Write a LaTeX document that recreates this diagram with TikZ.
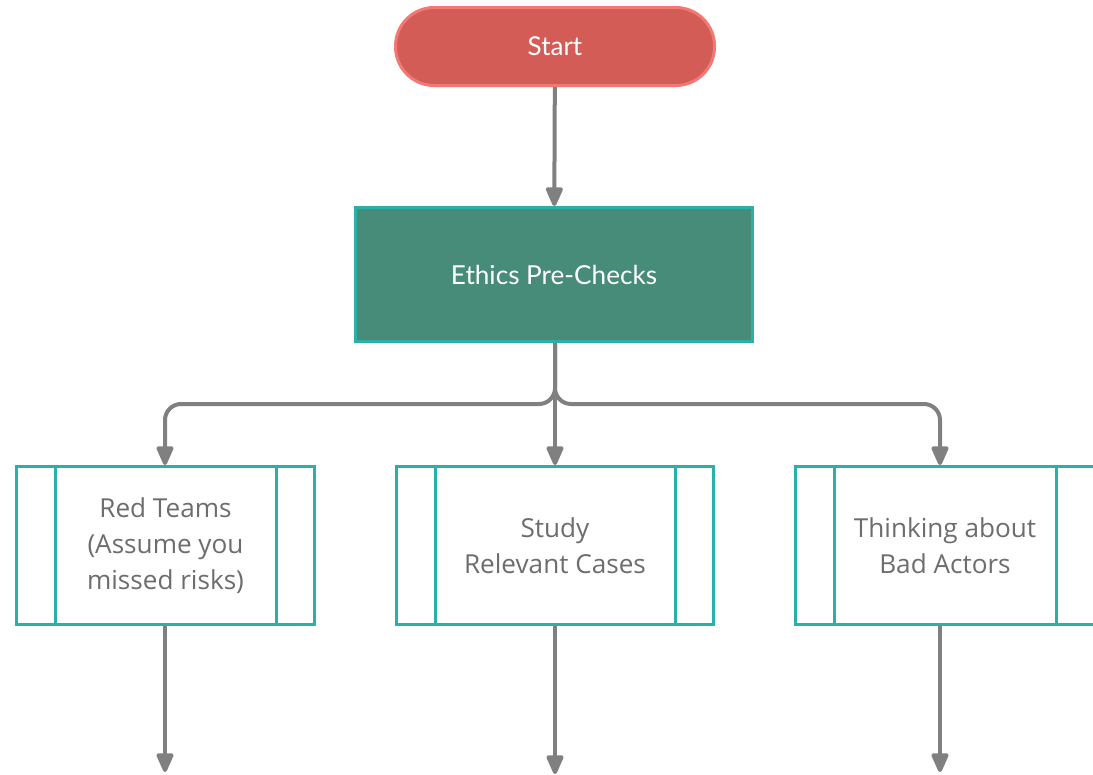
\documentclass[tikz,border=0pt]{standalone}
\usepackage{fontspec}
\setmainfont{Open Sans}
\newfontfamily\latofont{Lato}
\usetikzlibrary{arrows.meta,calc}

\definecolor{startfill}{HTML}{D35C56}
\definecolor{startline}{HTML}{F27873}
\definecolor{checkfill}{HTML}{468C79}
\definecolor{tealline}{HTML}{2AAFA9}
\definecolor{flowgray}{HTML}{808080}
\definecolor{textgray}{HTML}{6D6D6D}

\tikzset{
  terminal/.style={draw=startline, fill=startfill, line width=2.25pt,
    rounded corners=29pt, minimum width=239.25pt, minimum height=58.5pt,
    inner sep=0pt, text=white, font=\latofont\fontsize{19.5pt}{23pt}\selectfont},
  checkbox/.style={draw=tealline, fill=checkfill, line width=2.25pt,
    minimum width=297.75pt, minimum height=100.5pt, inner sep=0pt,
    text=white, font=\latofont\fontsize{19.6pt}{23pt}\selectfont},
  procbox/.style={draw=tealline, fill=white, line width=2.25pt,
    minimum height=118.5pt, inner sep=0pt, text=textgray, align=center,
    font=\fontsize{19.6pt}{27pt}\selectfont},
  sidebar/.style={draw=tealline, line width=2.25pt},
  flow/.style={draw=flowgray, line width=3pt,
    -{Triangle[width=13.5pt,length=16.5pt,round]}},
  branch/.style={flow, rounded corners=12pt}
}

\begin{document}
\begin{tikzpicture}[x=0.75pt, y=-0.75pt]
  \useasboundingbox (0,0) rectangle (1093,775);

  % terminal and pre-check step
  \node[terminal] (start) at (555,46.5) {Start};
  \node[checkbox] (checks) at (554,274.5) {Ethics Pre-Checks};

  % the three parallel sub-processes
  \node[procbox, minimum width=223.5pt] (red) at (165.5,545.5)
    {Red Teams\\(Assume you\\missed risks)};
  \node[procbox, minimum width=237.75pt] (cases) at (555,545.5)
    {Study\\Relevant Cases};
  \node[procbox, minimum width=224.25pt] (actors) at (945,545.5)
    {Thinking about\\Bad Actors};

  % inner side bars of each sub-process box
  \foreach \n in {red,cases,actors}{
    \draw[sidebar] ($(\n.north west)+(40,0)$) -- ($(\n.south west)+(40,0)$);
    \draw[sidebar] ($(\n.north east)+(-40,0)$) -- ($(\n.south east)+(-40,0)$);
  }

  % open ends below the sub-processes
  \coordinate (redout) at (165,772);
  \coordinate (casesout) at (555,774);
  \coordinate (actorsout) at (940,772);

  % connectors
  \draw[flow] (start) -- (checks);
  \draw[flow] (checks.south -| cases.north) -- (cases.north);
  \draw[branch] (checks.south -| cases.north) -- (555,404) -- (165,404) -- (red.north -| 165,0);
  \draw[branch] (checks.south -| cases.north) -- (555,404) -- (940,404) -- (actors.north -| 940,0);
  \draw[flow] (red.south -| redout) -- (redout);
  \draw[flow] (cases.south) -- (casesout);
  \draw[flow] (actors.south -| actorsout) -- (actorsout);
\end{tikzpicture}
\end{document}
